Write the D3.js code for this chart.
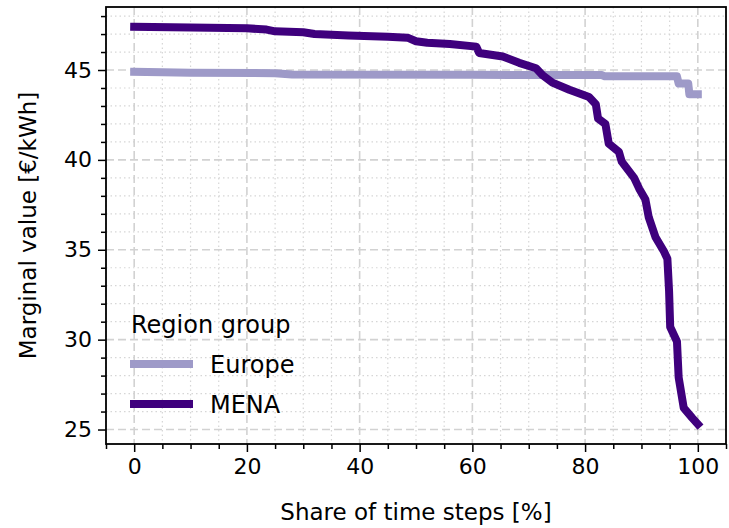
<!DOCTYPE html>
<html>
<head>
<meta charset="utf-8">
<script src="https://cdn.jsdelivr.net/npm/d3@7"></script>
<style>
  html, body { margin: 0; padding: 0; background: #fff; }
  svg text { font-family: "DejaVu Sans", sans-serif; fill: #000; }
</style>
</head>
<body>
<svg id="chart" width="729" height="528"></svg>
<script>
// Duration curves of the marginal value per region group (sorted, descending)
const regions = ["Europe", "MENA"];
const colors = ["#9e9ac8", "#3f007d"];

const europeShare = [0, 5, 10, 25, 28, 60, 83, 83.5, 96.3, 96.6, 98.3, 98.5, 100];
const europeValue = [44.9, 44.88, 44.85, 44.82, 44.75, 44.73, 44.72, 44.65, 44.65, 44.25, 44.25, 43.65, 43.65];

const menaShare = [0, 10, 20, 23.5, 25, 30, 32, 38, 45, 48.5, 50, 52, 56, 60.7, 61.2, 65.4, 68.3, 71.3,
  72.5, 74.2, 77.2, 80.7, 81.9, 82.3, 83.6, 84.2, 86, 86.5, 88.7, 89.6, 90.7, 91.3, 92.5, 94, 94.6,
  94.9, 95.1, 96.3, 96.6, 97.5, 99, 100];
const menaValue = [47.4, 47.36, 47.32, 47.25, 47.15, 47.1, 47.0, 46.92, 46.85, 46.8, 46.6, 46.52, 46.45, 46.3, 45.95, 45.75, 45.4, 45.1,
  44.7, 44.3, 43.9, 43.5, 43.1, 42.3, 42.0, 40.9, 40.45, 39.9, 39.0, 38.4, 37.8, 36.8, 35.7, 34.9, 34.5,
  32.7, 30.7, 29.9, 27.9, 26.2, 25.65, 25.3];

const xTicks = [0, 20, 40, 60, 80, 100];
const yTicks = [25, 30, 35, 40, 45];

const series = [
  { name: regions[0], color: colors[0], pts: europeShare.map((s, i) => [s, europeValue[i]]) },
  { name: regions[1], color: colors[1], pts: menaShare.map((s, i) => [s, menaValue[i]]) }
];

const svg = d3.select("#chart");
const L = 106, R = 726, T = 7, B = 444;

// 5% padding around the data range on both axes
function padded(ext) { const p = (ext[1] - ext[0]) * 0.05; return [ext[0] - p, ext[1] + p]; }
const allX = series.flatMap(s => s.pts.map(p => p[0]));
const allY = series.flatMap(s => s.pts.map(p => p[1]));
const x = d3.scaleLinear().domain(padded(d3.extent(allX))).range([L, R]);
const y = d3.scaleLinear().domain(padded(d3.extent(allY))).range([B, T]);

const xMinor = d3.range(-5, 106, 5).filter(v => v % 20 !== 0 && v >= x.domain()[0] && v <= x.domain()[1]);
const yMinor = d3.range(24, 49, 1).filter(v => v % 5 !== 0 && v >= y.domain()[0] && v <= y.domain()[1]);

// grid: dotted minor, dashed major
const grid = svg.append("g");
grid.selectAll(".gxm").data(xMinor).join("line")
  .attr("x1", d => x(d)).attr("x2", d => x(d)).attr("y1", T).attr("y2", B)
  .attr("stroke", "#d6d6d6").attr("stroke-width", 1.2).attr("stroke-dasharray", "1.5,3");
grid.selectAll(".gym").data(yMinor).join("line")
  .attr("y1", d => y(d)).attr("y2", d => y(d)).attr("x1", L).attr("x2", R)
  .attr("stroke", "#d6d6d6").attr("stroke-width", 1.2).attr("stroke-dasharray", "1.5,3");
grid.selectAll(".gx").data(xTicks).join("line")
  .attr("x1", d => x(d)).attr("x2", d => x(d)).attr("y1", T).attr("y2", B)
  .attr("stroke", "#d2d2d2").attr("stroke-width", 1.6).attr("stroke-dasharray", "8,4");
grid.selectAll(".gy").data(yTicks).join("line")
  .attr("y1", d => y(d)).attr("y2", d => y(d)).attr("x1", L).attr("x2", R)
  .attr("stroke", "#d2d2d2").attr("stroke-width", 1.6).attr("stroke-dasharray", "8,4");

// curves
const line = d3.line().x(d => x(d[0])).y(d => y(d[1]));
svg.append("g").selectAll("path").data(series).join("path")
  .attr("d", d => line(d.pts))
  .attr("fill", "none")
  .attr("stroke", d => d.color)
  .attr("stroke-width", 8)
  .attr("stroke-linejoin", "round")
  .attr("stroke-linecap", "square");

// axes
const xAxis = svg.append("g").attr("transform", `translate(0,${B})`)
  .call(d3.axisBottom(x).tickValues(xTicks).tickFormat(d3.format("d")).tickSize(8).tickPadding(6));
const xAxisMinor = svg.append("g").attr("transform", `translate(0,${B})`)
  .call(d3.axisBottom(x).tickValues(xMinor).tickFormat("").tickSize(5));
const yAxis = svg.append("g").attr("transform", `translate(${L},0)`)
  .call(d3.axisLeft(y).tickValues(yTicks).tickFormat(d3.format("d")).tickSize(8).tickPadding(6));
const yAxisMinor = svg.append("g").attr("transform", `translate(${L},0)`)
  .call(d3.axisLeft(y).tickValues(yMinor).tickFormat("").tickSize(5));

[xAxis, yAxis, xAxisMinor, yAxisMinor].forEach(g => {
  g.select(".domain").remove();
  g.selectAll(".tick line").attr("stroke", "#000").attr("stroke-width", 1.5);
  g.selectAll(".tick text").attr("font-size", 22).attr("fill", "#000")
    .style("font-family", "'DejaVu Sans', sans-serif");
});

// frame
svg.append("rect").attr("x", L).attr("y", T).attr("width", R - L).attr("height", B - T)
  .attr("fill", "none").attr("stroke", "#000").attr("stroke-width", 1.8);

// axis titles
svg.append("text").attr("x", (L + R) / 2).attr("y", 520)
  .attr("text-anchor", "middle").attr("font-size", 23).text("Share of time steps [%]");
svg.append("text").attr("transform", `translate(36,${(T + B) / 2}) rotate(-90)`)
  .attr("text-anchor", "middle").attr("font-size", 23).text("Marginal value [€/kWh]");

// legend
const leg = svg.append("g");
leg.append("text").attr("x", 131).attr("y", 333).attr("font-size", 24).text("Region group");
const items = leg.selectAll(".item").data(series).join("g")
  .attr("transform", (d, i) => `translate(0,${364 + i * 40})`);
items.append("line").attr("x1", 130).attr("x2", 193).attr("y1", 0).attr("y2", 0)
  .attr("stroke", d => d.color).attr("stroke-width", 8);
items.append("text").attr("x", 210).attr("y", 9).attr("font-size", 24).text(d => d.name);
</script>
</body>
</html>
